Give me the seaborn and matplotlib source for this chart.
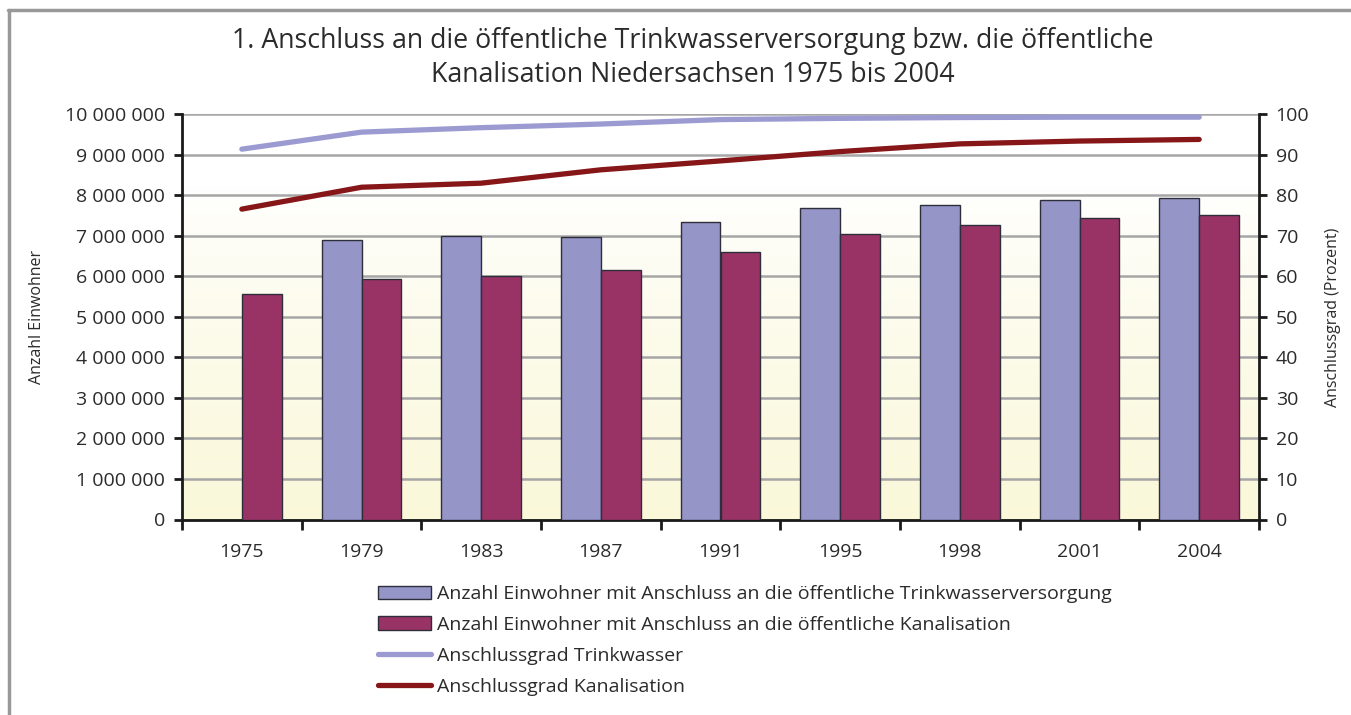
import matplotlib

matplotlib.use("Agg")

import matplotlib.pyplot as plt
import numpy as np
import pandas as pd
import seaborn as sns
from matplotlib.lines import Line2D
from matplotlib.patches import Patch
from matplotlib.ticker import FuncFormatter, MultipleLocator

YEARS = ["1975", "1979", "1983", "1987", "1991", "1995", "1998", "2001", "2004"]

# Einwohner mit Anschluss (1975 ohne Angabe für Trinkwasser)
TRINKWASSER_EW = [np.nan, 6_890_000, 7_000_000, 6_960_000, 7_350_000,
                  7_680_000, 7_770_000, 7_880_000, 7_930_000]
KANAL_EW = [5_560_000, 5_930_000, 6_000_000, 6_150_000, 6_590_000,
            7_040_000, 7_260_000, 7_430_000, 7_510_000]

# Anschlussgrad in Prozent
TRINKWASSER_PCT = [91.4, 95.6, 96.7, 97.6, 98.7, 99.0, 99.2, 99.3, 99.3]
KANAL_PCT = [76.6, 82.0, 83.0, 86.3, 88.5, 90.8, 92.7, 93.4, 93.8]

LABEL_BAR_TW = "Anzahl Einwohner mit Anschluss an die öffentliche Trinkwasserversorgung"
LABEL_BAR_KA = "Anzahl Einwohner mit Anschluss an die öffentliche Kanalisation"
LABEL_LINE_TW = "Anschlussgrad Trinkwasser"
LABEL_LINE_KA = "Anschlussgrad Kanalisation"

COLOR_BAR_TW = "#9595c8"
COLOR_BAR_KA = "#993366"
COLOR_LINE_TW = "#9b9bd2"
COLOR_LINE_KA = "#861618"
TEXT_COLOR = "#2b2b2b"


def fmt_thousands(v, _pos):
    return f"{int(round(v)):,}".replace(",", " ")


def main() -> None:
    sns.set_theme(style="white")
    plt.rcParams["font.family"] = ["Open Sans", "DejaVu Sans"]
    plt.rcParams["text.color"] = TEXT_COLOR

    df = pd.DataFrame({
        "Jahr": YEARS * 2,
        "Reihe": [LABEL_BAR_TW] * len(YEARS) + [LABEL_BAR_KA] * len(YEARS),
        "Einwohner": TRINKWASSER_EW + KANAL_EW,
    })

    fig = plt.figure(figsize=(13.51, 7.15), dpi=100)
    pos = [182 / 1351, 1 - 519.5 / 715, (1259 - 182) / 1351, (519.5 - 114.3) / 715]

    # background gradient (white at top -> pale yellow at bottom)
    bg = fig.add_axes(pos, zorder=0)
    t = np.linspace(0, 1, 256)
    w = np.clip((0.82 - t) / 0.82, 0, 1) ** 0.8
    top = np.array([1.0, 1.0, 1.0])
    bottom = np.array([0xfa, 0xf8, 0xd9]) / 255
    grad = (top[None, :] * (1 - w[:, None]) + bottom[None, :] * w[:, None])[:, None, :]
    bg.imshow(grad, aspect="auto", origin="lower", extent=[0, 1, 0, 1])
    bg.set_axis_off()

    ax = fig.add_axes(pos, zorder=1)
    ax.set_facecolor("none")
    sns.barplot(
        data=df, x="Jahr", y="Einwohner", hue="Reihe",
        hue_order=[LABEL_BAR_TW, LABEL_BAR_KA],
        palette=[COLOR_BAR_TW, COLOR_BAR_KA], saturation=1,
        width=0.665, edgecolor="#2e2e3a", linewidth=1.0,
        legend=False, ax=ax, zorder=3,
    )

    ax.set_ylim(0, 10_000_000)
    ax.set_xlim(-0.5, len(YEARS) - 0.5)
    ax.yaxis.set_major_locator(MultipleLocator(1_000_000))
    ax.yaxis.set_major_formatter(FuncFormatter(fmt_thousands))
    ax.grid(axis="y", color="#a6a6a6", linewidth=1.8, zorder=0)
    ax.set_axisbelow(True)
    ax.set_xlabel("")
    ax.set_ylabel("")
    for s in ["top", "right"]:
        ax.spines[s].set_visible(False)
    for s in ["left", "bottom"]:
        ax.spines[s].set_color("#1a1a1a")
        ax.spines[s].set_linewidth(2)

    ax.tick_params(axis="y", direction="out", length=6, width=2, color="#1a1a1a",
                   labelsize=14, labelcolor=TEXT_COLOR, pad=6, left=True)
    ax.tick_params(axis="x", which="major", length=0, labelsize=14,
                   labelcolor=TEXT_COLOR, pad=17)
    ax.set_xticks(np.arange(-0.5, len(YEARS), 1), minor=True)
    ax.tick_params(axis="x", which="minor", direction="out", length=7, width=2,
                   color="#1a1a1a", bottom=True)

    # percentage lines on the secondary axis
    ax2 = ax.twinx()
    sns.lineplot(x=YEARS, y=TRINKWASSER_PCT, ax=ax2, color=COLOR_LINE_TW,
                 linewidth=3.8, sort=False, solid_capstyle="round")
    sns.lineplot(x=YEARS, y=KANAL_PCT, ax=ax2, color=COLOR_LINE_KA,
                 linewidth=3.8, sort=False, solid_capstyle="round")
    ax2.set_ylim(0, 100)
    ax2.set_xlim(-0.5, len(YEARS) - 0.5)
    ax2.yaxis.set_major_locator(MultipleLocator(10))
    for s in ["top", "left", "bottom"]:
        ax2.spines[s].set_visible(False)
    ax2.spines["right"].set_color("#1a1a1a")
    ax2.spines["right"].set_linewidth(2)
    ax2.tick_params(axis="y", direction="out", length=6, width=2, color="#1a1a1a",
                    labelsize=14, labelcolor=TEXT_COLOR, pad=6, right=True)
    ax2.set_ylabel("")

    fig.text(0.513, 1 - 27 / 715,
             "1. Anschluss an die öffentliche Trinkwasserversorgung bzw. die öffentliche\n"
             "Kanalisation Niedersachsen 1975 bis 2004",
             ha="center", va="top", fontsize=19.3, linespacing=1.3)
    fig.text(37 / 1351, 1 - 317 / 715, "Anzahl Einwohner", rotation=90,
             ha="center", va="center", fontsize=11.5)
    fig.text(1333 / 1351, 1 - 317 / 715, "Anschlussgrad (Prozent)", rotation=90,
             ha="center", va="center", fontsize=11.5)

    handles = [
        Patch(facecolor=COLOR_BAR_TW, edgecolor="#2e2e3a", linewidth=1.0),
        Patch(facecolor=COLOR_BAR_KA, edgecolor="#2e2e3a", linewidth=1.0),
        Line2D([], [], color=COLOR_LINE_TW, linewidth=3.8, solid_capstyle="round"),
        Line2D([], [], color=COLOR_LINE_KA, linewidth=3.8, solid_capstyle="round"),
    ]
    labels = [LABEL_BAR_TW, LABEL_BAR_KA, LABEL_LINE_TW, LABEL_LINE_KA]
    fig.legend(handles, labels, loc="upper left",
               bbox_to_anchor=(378 / 1351, 1 - 585 / 715),
               frameon=False, fontsize=14, borderpad=0, borderaxespad=0,
               handlelength=2.75, handleheight=0.68, handletextpad=0.3,
               labelspacing=0.66)

    # outer frame (top and left edges visible)
    fig.add_artist(Line2D([8 / 1351, 1], [1 - 10 / 715] * 2,
                          transform=fig.transFigure, color="#999999", linewidth=2.5))
    fig.add_artist(Line2D([9 / 1351] * 2, [0, 1 - 10 / 715],
                          transform=fig.transFigure, color="#999999", linewidth=2.5))

    fig.savefig("out.png", dpi=100)
    plt.close(fig)


if __name__ == "__main__":
    main()
